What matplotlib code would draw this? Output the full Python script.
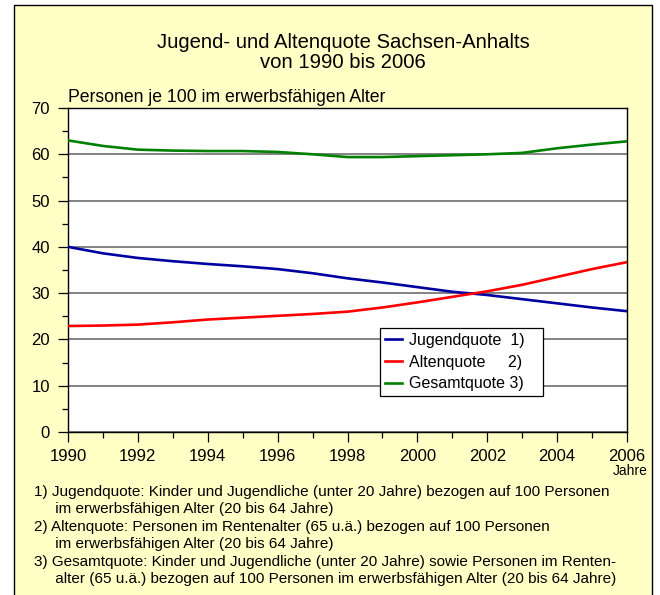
import numpy as np
import matplotlib.pyplot as plt
from matplotlib.patches import Rectangle
from matplotlib.ticker import MultipleLocator

jahre = list(range(1990, 2007))
jugendquote = [40.0, 38.6, 37.6, 36.9, 36.3, 35.8, 35.2, 34.3, 33.2, 32.3,
               31.3, 30.3, 29.6, 28.7, 27.8, 26.9, 26.1]
altenquote = [22.9, 23.0, 23.2, 23.7, 24.3, 24.7, 25.1, 25.5, 26.0, 26.9,
              28.0, 29.2, 30.4, 31.8, 33.5, 35.2, 36.7]
gesamtquote = [63.0, 61.8, 61.0, 60.8, 60.7, 60.7, 60.5, 60.0, 59.4, 59.4,
               59.6, 59.8, 60.0, 60.3, 61.3, 62.1, 62.8]
x_labels = [str(j) for j in range(1990, 2007, 2)]

fussnoten = [
    "1) Jugendquote: Kinder und Jugendliche (unter 20 Jahre) bezogen auf 100 Personen",
    "     im erwerbsfähigen Alter (20 bis 64 Jahre)",
    "2) Altenquote: Personen im Rentenalter (65 u.ä.) bezogen auf 100 Personen",
    "     im erwerbsfähigen Alter (20 bis 64 Jahre)",
    "3) Gesamtquote: Kinder und Jugendliche (unter 20 Jahre) sowie Personen im Renten-",
    "     alter (65 u.ä.) bezogen auf 100 Personen im erwerbsfähigen Alter (20 bis 64 Jahre)",
]

plt.rcParams['font.family'] = ['Liberation Sans', 'DejaVu Sans']

W, H = 660, 595
fig = plt.figure(figsize=(W / 100, H / 100), dpi=100)
fig.patch.set_facecolor('white')

# gelber Hintergrund mit Rahmen
bg = Rectangle((14 / W, -0.01), (652 - 14) / W, (H - 5) / H + 0.01,
               transform=fig.transFigure, facecolor='#FFFFC6',
               edgecolor='black', linewidth=1.0, zorder=-5)
fig.patches.append(bg)

ax = fig.add_axes([68 / W, (H - 432) / H, (627 - 68) / W, (432 - 108) / H])
ax.set_zorder(2)
ax.set_facecolor('white')

ax.plot(jahre, jugendquote, color='#0000A0', lw=1.9, label='Jugendquote  1)   ', zorder=3)
ax.plot(jahre, altenquote, color='#FF0000', lw=1.9, label='Altenquote     2)   ', zorder=3)
ax.plot(jahre, gesamtquote, color='#008000', lw=1.9, label='Gesamtquote 3)   ', zorder=3)

ax.set_xlim(1990, 2006)
ax.set_ylim(0, 70)
ax.set_xticks(range(1990, 2007, 2))
ax.set_xticklabels(x_labels)
ax.xaxis.set_minor_locator(MultipleLocator(1))
ax.yaxis.set_major_locator(MultipleLocator(10))
ax.yaxis.set_minor_locator(MultipleLocator(5))
ax.tick_params(axis='both', which='major', direction='out', length=7, width=0.9,
               labelsize=12, pad=5)
ax.tick_params(axis='both', which='minor', direction='out', length=4, width=0.9)
ax.tick_params(axis='y', pad=6)
ax.yaxis.grid(True, which='major', color='#787878', lw=1.3, zorder=1)
ax.set_axisbelow(True)
for sp in ax.spines.values():
    sp.set_color('black')
    sp.set_linewidth(1.0)

leg = ax.legend(loc='upper left', bbox_to_anchor=((380 - 68) / (627 - 68), 1 - (328 - 108) / (432 - 108)),
                fontsize=11.5, frameon=True, fancybox=False, edgecolor='black',
                framealpha=1, handlelength=1.1, handletextpad=0.4,
                labelspacing=0.42, borderpad=0.3, borderaxespad=0)
leg.get_frame().set_linewidth(0.9)

fig.text(343 / W, 1 - 42 / H, "Jugend- und Altenquote Sachsen-Anhalts",
         ha='center', va='center', fontsize=14.6)
fig.text(343 / W, 1 - 63 / H, "von 1990 bis 2006",
         ha='center', va='center', fontsize=14.6)
fig.text(68 / W, 1 - 97 / H, "Personen je 100 im erwerbsfähigen Alter",
         ha='left', va='center', fontsize=12.7)
fig.text(648 / W, 1 - 471 / H, "Jahre", ha='right', va='center', fontsize=10)

zeilen_y = [492, 509, 527, 544, 562, 579]
for txt, y in zip(fussnoten, zeilen_y):
    fig.text(34 / W, 1 - y / H, txt, ha='left', va='center', fontsize=11)

fig.savefig('out.png', dpi=100, facecolor=fig.get_facecolor())
